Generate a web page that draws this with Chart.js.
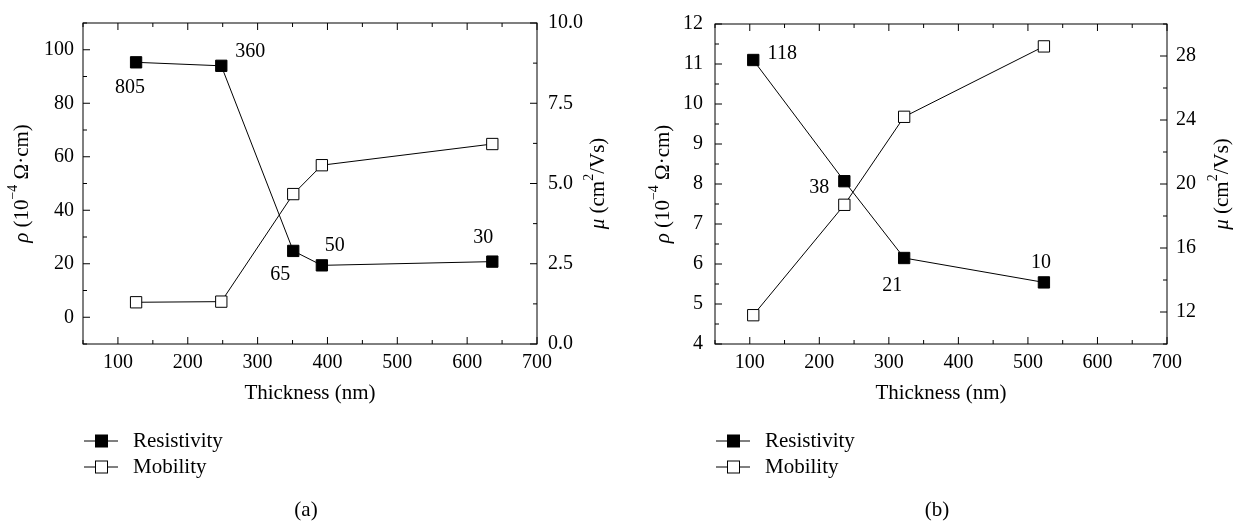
<!DOCTYPE html>
<html>
<head>
<meta charset="utf-8">
<script src="https://cdn.jsdelivr.net/npm/chart.js@4.4.1/dist/chart.umd.min.js"></script>
<style>
html, body { margin: 0; padding: 0; background: #fff; }
#wrap { position: relative; width: 1243px; height: 527px; }
canvas { position: absolute; top: 0; }
#chartA { left: 0; }
#chartB { left: 620px; }
</style>
</head>
<body>
<div id="wrap">
  <canvas id="chartA" width="620" height="527"></canvas>
  <canvas id="chartB" width="623" height="527"></canvas>
</div>
<script>
// panel (a)
const thicknessA = [126, 248, 351, 392, 636];
const resistivityA = [95.3, 94.0, 24.8, 19.4, 20.8];
const mobilityA = [1.30, 1.32, 4.67, 5.57, 6.23];
const pointTextA = ['805', '360', '65', '50', '30'];

// panel (b)
const thicknessB = [105, 236, 322, 523];
const resistivityB = [11.1, 8.07, 6.15, 5.54];
const mobilityB = [11.8, 18.7, 24.2, 28.6];
const pointTextB = ['118', '38', '21', '10'];

// tick labels
const xTicks = [100, 200, 300, 400, 500, 600, 700];
const rhoTicksA = [0, 20, 40, 60, 80, 100];
const muTicksA = [0, 2.5, 5, 7.5, 10];
const rhoTicksB = [4, 5, 6, 7, 8, 9, 10, 11, 12];
const muTicksB = [12, 16, 20, 24, 28];

const FONT = "'Liberation Serif', 'DejaVu Serif', serif";
const FS = 20;   // tick labels
const TS = 21;   // titles, legend, captions
const H = 527;

// minor ticks sit halfway between the major ones
function minorOf(major, min, max) {
    const step = major[1] - major[0];
    const out = [];
    for (let i = -1; i < major.length; i++) {
        const v = (i < 0 ? major[0] - step : major[i]) + step / 2;
        if (v >= min - 1e-9 && v <= max + 1e-9) out.push(v);
    }
    return out;
}

function drawRich(c, parts, x, y, rot) {
    const sup = Math.round(TS * 0.65);
    let w = 0;
    parts.forEach(p => {
        c.font = (p.it ? 'italic ' : '') + (p.sup ? sup : TS) + 'px ' + FONT;
        p.w = c.measureText(p.t).width;
        w += p.w;
    });
    c.save();
    c.translate(x, y);
    c.rotate(rot);
    c.textBaseline = 'middle';
    c.textAlign = 'left';
    let cx = -w / 2;
    parts.forEach(p => {
        c.font = (p.it ? 'italic ' : '') + (p.sup ? sup : TS) + 'px ' + FONT;
        c.fillText(p.t, cx, p.sup ? -TS * 0.4 : 0);
        cx += p.w;
    });
    c.restore();
}

function decoPlugin(p) {
    return {
        id: 'deco',
        afterDraw(chart) {
            const c = chart.ctx, a = chart.chartArea;
            const sx = chart.scales.x, sy = chart.scales.y, sy2 = chart.scales.y2;
            c.save();
            c.strokeStyle = '#000';
            c.fillStyle = '#000';
            c.lineWidth = 1;
            c.strokeRect(a.left, a.top, a.right - a.left, a.bottom - a.top);

            // inward ticks on all four sides
            c.beginPath();
            const tickX = (vals, len) => vals.forEach(v => {
                const px = sx.getPixelForValue(v);
                c.moveTo(px, a.bottom); c.lineTo(px, a.bottom - len);
                c.moveTo(px, a.top); c.lineTo(px, a.top + len);
            });
            const tickY = (scale, vals, len, left) => vals.forEach(v => {
                const py = scale.getPixelForValue(v);
                const x0 = left ? a.left : a.right;
                c.moveTo(x0, py); c.lineTo(left ? x0 + len : x0 - len, py);
            });
            tickX(xTicks, 7);
            tickX(minorOf(xTicks, 50, 700), 4);
            tickY(sy, p.rhoTicks, 7, true);
            tickY(sy, minorOf(p.rhoTicks, p.yMin, p.yMax), 4, true);
            tickY(sy2, p.muTicks, 7, false);
            tickY(sy2, minorOf(p.muTicks, p.y2Min, p.y2Max), 4, false);
            c.stroke();

            // axis titles
            const midY = (a.top + a.bottom) / 2;
            const midX = (a.left + a.right) / 2;
            drawRich(c, [{ t: 'ρ', it: true }, { t: ' (10' }, { t: '−4', sup: true }, { t: ' Ω·cm)' }], p.leftTitleX, midY, -Math.PI / 2);
            drawRich(c, [{ t: 'μ', it: true }, { t: ' (cm' }, { t: '2', sup: true }, { t: '/Vs)' }], p.rightTitleX, midY, -Math.PI / 2);
            drawRich(c, [{ t: 'Thickness (nm)' }], midX, 393, 0);

            // numbers next to the resistivity points
            c.font = FS + 'px ' + FONT;
            c.textAlign = 'center';
            c.textBaseline = 'middle';
            const meta = chart.getDatasetMeta(0);
            p.pointText.forEach((t, i) => {
                const el = meta.data[i];
                c.fillText(t, el.x + p.textOff[i][0], el.y + p.textOff[i][1]);
            });

            // legend
            c.font = TS + 'px ' + FONT;
            const lx = a.left + 1;
            [['Resistivity', '#000', 441], ['Mobility', '#fff', 467]].forEach(([name, fill, ly]) => {
                c.beginPath();
                c.moveTo(lx, ly); c.lineTo(lx + 34, ly);
                c.stroke();
                c.fillStyle = fill;
                c.fillRect(lx + 11.5, ly - 6, 12, 12);
                c.strokeRect(lx + 11.5, ly - 6, 12, 12);
                c.fillStyle = '#000';
                c.textAlign = 'left';
                c.fillText(name, lx + 49, ly);
            });

            // caption
            c.textAlign = 'center';
            c.fillText(p.caption, midX - 4, 510);
            c.restore();
        }
    };
}

function buildPanel(id, p) {
    const ticksOf = vals => scale => { scale.ticks = vals.map(v => ({ value: v })); };
    const tickFont = { family: FONT, size: FS };
    const axisBase = {
        grid: { display: false, drawTicks: false },
        border: { display: false },
    };
    const ctx = document.getElementById(id).getContext('2d');
    return new Chart(ctx, {
        type: 'line',
        data: {
            datasets: [{
                label: 'Resistivity',
                data: p.x.map((x, i) => ({ x: x, y: p.rho[i] })),
                yAxisID: 'y',
                borderColor: '#000',
                borderWidth: 1,
                pointStyle: 'rect',
                pointRadius: 8,
                pointBackgroundColor: '#000',
                pointBorderColor: '#000',
                pointBorderWidth: 1,
                tension: 0
            }, {
                label: 'Mobility',
                data: p.x.map((x, i) => ({ x: x, y: p.mu[i] })),
                yAxisID: 'y2',
                borderColor: '#000',
                borderWidth: 1,
                pointStyle: 'rect',
                pointRadius: 8,
                pointBackgroundColor: '#fff',
                pointBorderColor: '#000',
                pointBorderWidth: 1,
                tension: 0
            }]
        },
        options: {
            responsive: false,
            animation: false,
            layout: { padding: { top: p.top, left: 0, right: 0, bottom: 0 } },
            plugins: { legend: { display: false }, tooltip: { enabled: false } },
            scales: {
                x: Object.assign({}, axisBase, {
                    type: 'linear', min: 50, max: 700,
                    afterBuildTicks: ticksOf(xTicks),
                    afterFit: s => { s.height = H - p.bottom; },
                    ticks: { color: '#000', font: tickFont, padding: 7, maxRotation: 0, callback: v => String(v) }
                }),
                y: Object.assign({}, axisBase, {
                    position: 'left', min: p.yMin, max: p.yMax,
                    afterBuildTicks: ticksOf(p.rhoTicks),
                    afterFit: s => { s.width = p.left; },
                    ticks: { color: '#000', font: tickFont, padding: p.leftPad, callback: v => String(v) }
                }),
                y2: Object.assign({}, axisBase, {
                    position: 'right', min: p.y2Min, max: p.y2Max,
                    afterBuildTicks: ticksOf(p.muTicks),
                    afterFit: s => { s.width = p.rightW; },
                    ticks: { color: '#000', font: tickFont, padding: p.rightPad, callback: p.muFmt }
                })
            }
        },
        plugins: [decoPlugin(p)]
    });
}

buildPanel('chartA', {
    x: thicknessA, rho: resistivityA, mu: mobilityA,
    pointText: pointTextA,
    textOff: [[-6, 25], [29, -14], [-13, 24], [13, -20], [-9, -24]],
    rhoTicks: rhoTicksA, muTicks: muTicksA,
    yMin: -10, yMax: 110, y2Min: 0, y2Max: 10,
    muFmt: v => v.toFixed(1),
    top: 12, bottom: 344, left: 83, rightW: 83,
    leftPad: 9, rightPad: 11,
    leftTitleX: 22, rightTitleX: 598,
    caption: '(a)'
});

buildPanel('chartB', {
    x: thicknessB, rho: resistivityB, mu: mobilityB,
    pointText: pointTextB,
    textOff: [[29, -6], [-25, 7], [-12, 28], [-3, -20]],
    rhoTicks: rhoTicksB, muTicks: muTicksB,
    yMin: 4, yMax: 12, y2Min: 10, y2Max: 30,
    muFmt: v => String(v),
    top: 14, bottom: 344, left: 95, rightW: 76,
    leftPad: 12, rightPad: 9,
    leftTitleX: 43, rightTitleX: 602,
    caption: '(b)'
});
</script>
</body>
</html>
